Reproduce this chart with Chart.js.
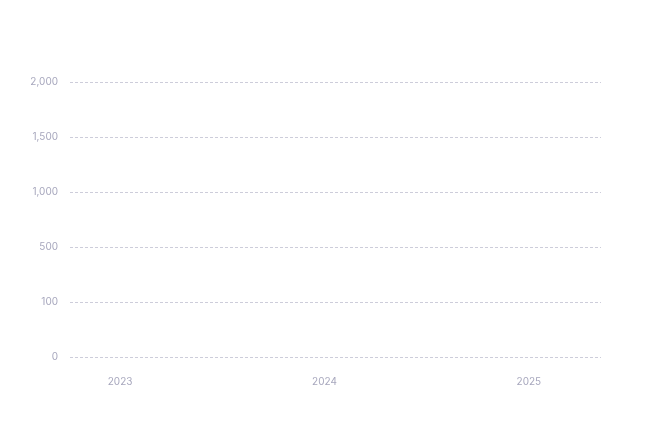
<!DOCTYPE html>
<html>
<head>
<meta charset="utf-8">
<script src="https://cdn.jsdelivr.net/npm/chart.js@4"></script>
<style>
    html, body { margin: 0; padding: 0; background: #ffffff; }
    #wrap { width: 649px; height: 439px; }
</style>
</head>
<body>
<div id="wrap"><canvas id="chart" width="649" height="439"></canvas></div>
<script>
// chart data (the reference shows an empty chart: no values plotted)
const years = [2023, 2024, 2025];
const yTickLabels = ["0", "100", "500", "1,000", "1,500", "2,000"];
const seriesValues = [];

const tickColor = "#a7a7bd";
const gridColor = "#cdcdda";

new Chart(document.getElementById("chart").getContext("2d"), {
    type: "line",
    data: {
        labels: yTickLabels,
        datasets: [{
            label: "Series",
            data: seriesValues,
            borderColor: "#6366f1",
            pointRadius: 0,
        }]
    },
    options: {
        responsive: false,
        animation: false,
        layout: {
            padding: { top: 82, right: 48, bottom: 34, left: 0 }
        },
        plugins: {
            legend: { display: false },
            tooltip: { enabled: false }
        },
        scales: {
            x: {
                type: "linear",
                min: 2022.755,
                max: 2025.353,
                afterBuildTicks: (scale) => {
                    scale.ticks = years.map(v => ({ value: v }));
                },
                afterFit: (scale) => { scale.height = 48; },
                grid: { display: false, drawTicks: false },
                border: { display: false },
                ticks: {
                    color: tickColor,
                    padding: 19,
                    font: { family: "Inter", size: 10 },
                    callback: (v) => String(v)
                }
            },
            y: {
                type: "category",
                labels: yTickLabels,
                reverse: true,
                offset: false,
                afterFit: (scale) => { scale.width = 70; },
                grid: { color: gridColor, lineWidth: 1, drawTicks: false },
                border: { display: false, dash: [3, 2] },
                ticks: {
                    color: tickColor,
                    padding: 12,
                    font: { family: "Inter", size: 10 }
                }
            }
        }
    }
});
</script>
</body>
</html>
